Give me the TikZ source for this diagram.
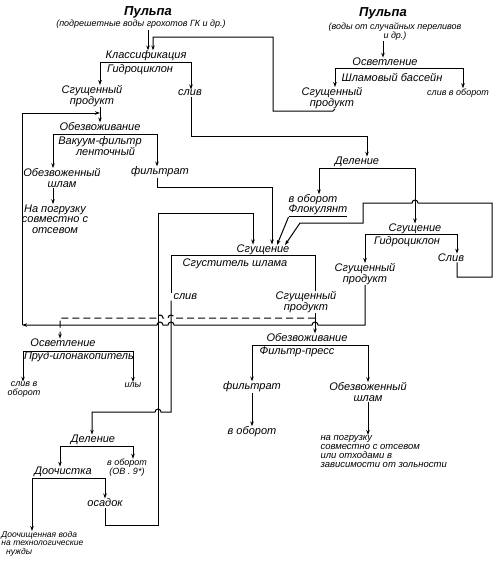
\documentclass[tikz,border=0pt]{standalone}
\usepackage{fontspec}
\setmainfont{Liberation Sans}
\usetikzlibrary{arrows.meta}

\begin{document}
\begin{tikzpicture}[x=1pt,y=-1pt,
    lbl/.style={font=\fontsize{11}{10.5}\selectfont\itshape,inner sep=0.3pt,align=center},
    sml/.style={font=\fontsize{9}{9}\selectfont\itshape,inner sep=0.3pt,align=center},
    big/.style={font=\fontsize{13}{13}\selectfont\bfseries\itshape,inner sep=0.3pt},
    ln/.style={line width=1pt},
    arr/.style={ln,-{Stealth[length=5pt,width=3.5pt]}},
    dsh/.style={arr,dash pattern=on 7pt off 4pt}
  ]
  \useasboundingbox (0,0) rectangle (496,563);

  % --- upper left branch
  \node[big] (pulpA) at (148,12) {Пульпа};
  \node[sml] (pulpAs) at (141,24) {(подрешетные воды грохотов ГК и др.)};
  \node[lbl] (klass) at (146,56) {Классификация};
  \node[lbl] (gcA) at (140,70) {Гидроциклон};
  \node[lbl] (kprod) at (92,96) {Сгущенный\\продукт};
  \node[lbl] (kslv) at (190,93) {слив};
  \node[lbl] (obzA) at (100,127) {Обезвоживание};
  \node[lbl] (vf) at (100,146) {Вакуум-фильтр\\\quad ленточный};
  \node[lbl] (shlA) at (62,178) {Обезвоженный\\шлам};
  \node[lbl] (pogA) at (55,219) {На погрузку\\совместно с\\отсевом};
  \node[lbl] (filA) at (160,172) {фильтрат};

  % --- upper right branch
  \node[big] (pulpB) at (383,13) {Пульпа};
  \node[sml] (pulpBs) at (395,32) {(воды от случайных переливов\\и др.)};
  \node[lbl] (osvA) at (385,62) {Осветление};
  \node[lbl] (bass) at (392,77) {Шламовый бассейн};
  \node[lbl] (bprod) at (332,98) {Сгущенный\\продукт};
  \node[sml] (bslv) at (458,93) {слив в оборот};

  \node[lbl] (delA) at (357,162) {Деление};
  \node[lbl] (oborA) at (313,200) {в оборот};
  \node[lbl,inner sep=0pt] (flok) at (318,211) {\underline{Флокулянт}};

  % --- thickeners
  \node[lbl] (sgA) at (263,250) {Сгущение};
  \node[lbl] (sgust) at (235,264) {Сгуститель шлама};
  \node[lbl,anchor=west] (sslv) at (173,297) {слив};
  \node[lbl] (sprod) at (306,302) {Сгущенный\\продукт};

  \node[lbl] (sgB) at (415,229) {Сгущение};
  \node[lbl] (gcB) at (407,242) {Гидроциклон};
  \node[lbl] (hprod) at (365,274) {Сгущенный\\продукт};
  \node[lbl] (hslv) at (451,258) {Слив};

  % --- filter press
  \node[lbl] (obzB) at (307,338) {Обезвоживание};
  \node[lbl] (fp) at (297,352) {Фильтр-пресс};
  \node[lbl] (filB) at (252,387) {фильтрат};
  \node[lbl] (oborB) at (252,432) {в оборот};
  \node[lbl] (shlB) at (368,392) {Обезвоженный\\шлам};
  \node[lbl,anchor=north west,align=left,font=\fontsize{9.5}{9}\selectfont\itshape] (pogB) at (320,435)
    {на погрузку\\совместно с отсевом\\или отходами в\\зависимости от зольности};

  % --- pond and after-treatment
  \node[lbl] (osvB) at (63,343) {Осветление};
  \node[lbl] (prud) at (79,357) {Пруд-илонакопитель};
  \node[sml] (pslv) at (24,390) {слив в\\оборот};
  \node[sml] (ily) at (133,385) {илы};
  \node[lbl] (delB) at (93,440) {Деление};
  \node[lbl] (doch) at (63,472) {Доочистка};
  \node[sml] (oborC) at (127,468) {в оборот\\(ОВ . 9*)};
  \node[lbl] (osad) at (105,503) {осадок};
  \node[anchor=north west,align=left,inner sep=0.3pt,font=\fontsize{8.5}{8.2}\selectfont\itshape] (voda) at (1,531)
    {Доочищенная вода\\на технологические\\\ \ нужды};

  % --- bars under the process titles
  \coordinate (kL) at (100,62);  \coordinate (kR) at (191,62);
  \coordinate (vL) at (53,134);  \coordinate (vR) at (157,134);
  \coordinate (bL) at (335,68);  \coordinate (bR) at (463,68);
  \coordinate (dL) at (319,168); \coordinate (dR) at (415,168);
  \coordinate (sL) at (171,255); \coordinate (sR) at (315,255);
  \coordinate (hL) at (365,234); \coordinate (hR) at (457,234);
  \coordinate (fL) at (252,345); \coordinate (fR) at (368,345);
  \coordinate (pL) at (23,351);  \coordinate (pR) at (133,351);
  \coordinate (eL) at (60,446);  \coordinate (eR) at (133,446);
  \coordinate (oL) at (32,478);  \coordinate (oR) at (105,478);
  \foreach \a/\b in {kL/kR,vL/vR,bL/bR,dL/dR,sL/sR,hL/hR,fL/fR,pL/pR,eL/eR,oL/oR}
    \draw[ln] (\a) -- (\b);

  % --- splits
  \draw[arr] (kL) -- (kL |- kprod.north);
  \draw[arr] (kR) -- (kR |- kslv.north);
  \draw[arr] (kL |- kprod.south) -- (kL |- obzA.north);
  \draw[arr] (vL) -- (vL |- shlA.north);
  \draw[arr] (vR) -- (vR |- filA.north);
  \draw[arr] (vL |- shlA.south) -- (vL |- pogA.north);
  \draw[arr] (pulpB.south |- pulpBs.south) -- (pulpB.south |- osvA.north);
  \draw[arr] (bL) -- (bL |- bprod.north);
  \draw[arr] (bR) -- (bR |- bslv.north);
  \draw[arr] (dL) -- (dL |- oborA.north);
  \draw[arr] (dR) -- (dR |- sgB.north);
  \draw[ln] (sL) -- (sL |- sslv.north);
  \draw[ln] (sR) -- (sR |- sprod.north);
  \draw[arr] (sR |- sprod.south) -- (sR |- obzB.north);
  \draw[arr] (hL) -- (hL |- hprod.north);
  \draw[arr] (hR) -- (hR |- hslv.north);
  \draw[arr] (fL) -- (filB.north);
  \draw[arr] (filB.south) -- (oborB.north);
  \draw[arr] (fR) -- (shlB.north);
  \draw[arr] (shlB.south) -- (shlB.south |- pogB.north);
  \draw[arr] (pL) -- (pL |- pslv.north);
  \draw[arr] (pR) -- (pR |- ily.north);
  \draw[arr] (eL) -- (eL |- doch.north);
  \draw[arr] (eR) -- (eR |- oborC.north);
  \draw[arr] (oL) -- (oL |- voda.north);
  \draw[arr] (oR) -- (oR |- osad.north);

  % --- feed lines
  \coordinate (pA) at (148,30);
  \coordinate (pT) at (153,37);
  \coordinate (dT) at (367,136);
  \coordinate (fT) at (272,187);
  \coordinate (lD) at (92,412);
  \draw[arr] (pA) -- (pA |- klass.north);
  \draw[arr] (bL |- bprod.south) -- (333,111) -- (273,111) -- (273,37) -- (pT) -- (pT |- klass.north);
  \draw[arr] (kR |- kslv.south) -- (191,136) -- (dT) -- (dT |- delA.north);
  \draw[arr] (vR |- filA.south) -- (157,187) -- (fT) -- (fT |- sgA.north);
  \draw[arr] (flok.south west) -- (277,245);
  \draw[arr] (hslv.south -| hR) -- (457,277) -- (492,277) -- (492,203) -- (418,203)
    arc (0:-180:3) -- (363,203) -- (363,223) -- (300,223) -- (285,245);

  % --- long return lines
  \coordinate (cL) at (22,325);
  \coordinate (cT) at (22,113);
  \draw[arr] (hL |- hprod.south) -- (365,325) -- (318,325) arc (0:-180:3) -- (174,325)
    arc (0:-180:3) -- (163,325) arc (0:-180:3) -- (cL);
  \draw[arr] (cL) -- (cT) -- (kL |- cT);
  \coordinate (cD) at (60,318);
  \draw[dsh] (315,318) -- (174,318) arc (0:-180:3) -- (163,318) arc (0:-180:3) -- (cD) -- (cD |- osvB.north);
  \draw[arr] (sL |- sslv.south) -- (171,412) -- (161,412) arc (0:-180:3) -- (lD) -- (lD |- delB.north);
  \coordinate (cO) at (253,213);
  \draw[arr] (oR |- osad.south) -- (105,525) -- (158,525) -- (158,213) -- (cO) -- (cO |- sgA.north);
\end{tikzpicture}
\end{document}
